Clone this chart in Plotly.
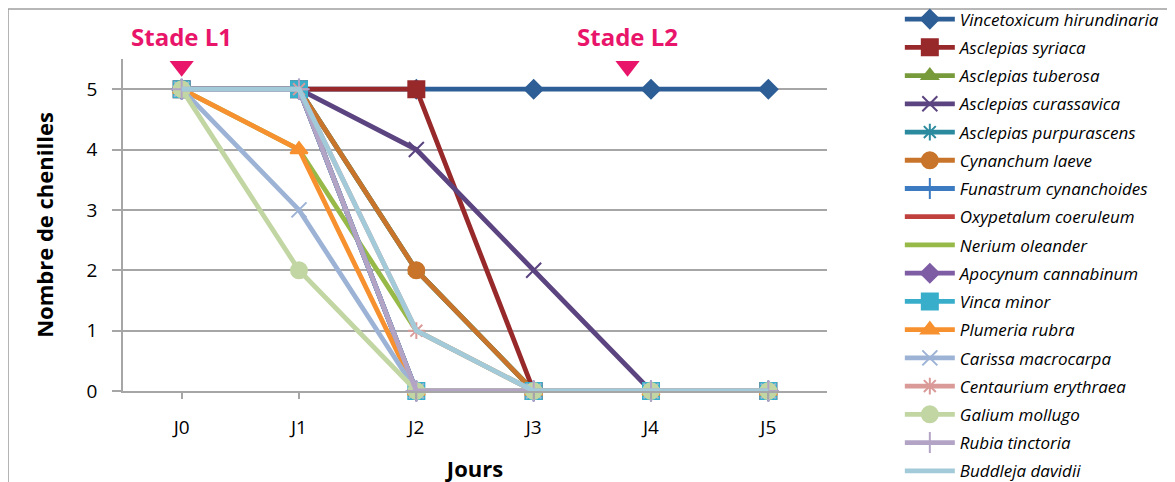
import plotly.graph_objects as go

days = ["J0", "J1", "J2", "J3", "J4", "J5"]

species = [
    "Vincetoxicum hirundinaria", "Asclepias syriaca", "Asclepias tuberosa",
    "Asclepias curassavica", "Asclepias purpurascens", "Cynanchum laeve",
    "Funastrum cynanchoides", "Oxypetalum coeruleum", "Nerium oleander",
    "Apocynum cannabinum", "Vinca minor", "Plumeria rubra",
    "Carissa macrocarpa", "Centaurium erythraea", "Galium mollugo",
    "Rubia tinctoria", "Buddleja davidii",
]

vincetoxicum = [5, 5, 5, 5, 5, 5]
syriaca = [5, 5, 5, 0, 0, 0]
tuberosa = [5, 5, 2, 0, 0, 0]
curassavica = [5, 5, 4, 2, 0, 0]
purpurascens = [5, 5, 2, 0, 0, 0]
cynanchum = [5, 5, 2, 0, 0, 0]
funastrum = [5, 5, 0, 0, 0, 0]
oxypetalum = [5, 5, 0, 0, 0, 0]
nerium = [5, 4, 1, 0, 0, 0]
apocynum = [5, 5, 0, 0, 0, 0]
vinca = [5, 5, 0, 0, 0, 0]
plumeria = [5, 4, 0, 0, 0, 0]
carissa = [5, 3, 0, 0, 0, 0]
centaurium = [5, 5, 1, 0, 0, 0]
galium = [5, 2, 0, 0, 0, 0]
rubia = [5, 5, 0, 0, 0, 0]
buddleja = [5, 5, 1, 0, 0, 0]

values = [vincetoxicum, syriaca, tuberosa, curassavica, purpurascens, cynanchum,
          funastrum, oxypetalum, nerium, apocynum, vinca, plumeria, carissa,
          centaurium, galium, rubia, buddleja]

colors = ["#2E5E96", "#98292B", "#779A3A", "#5B4480", "#2B8A9E", "#C8742B",
          "#3C7BC2", "#C0403E", "#97B948", "#7E5DA4", "#38AECB", "#F7902E",
          "#9DB3D6", "#D99A98", "#C2D6A3", "#B3A4C6", "#A3CAD9"]
symbols = ["diamond", "square", "triangle-up", "x-thin-open", "asterisk-open",
           "circle", "cross-thin-open", None, None, "diamond", "square",
           "triangle-up", "x-thin-open", "asterisk-open", "circle",
           "cross-thin-open", None]
sizes = [14, 16, 14, 15, 14, 16, 15, 0, 0, 14, 16, 15, 15, 14, 16, 15, 0]

stage_labels = ["Stade L1", "Stade L2"]
stage_x = [0, 3.8]

x_idx = list(range(len(days)))
FONT = "Open Sans"

fig = go.Figure()
for name, vals, col, sym, sz in zip(species, values, colors, symbols, sizes):
    if sym is None:
        mode = "lines"
        marker = dict()
    else:
        mode = "lines+markers"
        marker = dict(symbol=sym, size=sz, color=col,
                      line=dict(color=col, width=2))
    fig.add_trace(go.Scatter(
        x=x_idx, y=vals, name=name, mode=mode,
        line=dict(color=col, width=4.8), marker=marker,
        legendgroup=name, cliponaxis=False,
    ))

pink = "#E8156A"
fig.add_trace(go.Scatter(
    x=stage_x, y=[5.38] * len(stage_x), mode="markers",
    marker=dict(symbol="triangle-down", size=21, color=pink),
    showlegend=False, cliponaxis=False, hoverinfo="skip",
))
for lab, sx in zip(stage_labels, stage_x):
    fig.add_annotation(x=sx, xref="x", y=1.068, yref="paper", text="<b>" + lab + "</b>",
                       showarrow=False,
                       font=dict(size=24, color=pink, family=FONT),
                       xanchor="center", yanchor="middle")

fig.update_layout(
    width=1175, height=482,
    margin=dict(l=115, r=356, t=51, b=99, autoexpand=False),
    paper_bgcolor="white", plot_bgcolor="white",
    font=dict(family=FONT, color="#000000"),
    legend=dict(xref="container", yref="paper", x=0.759, y=1.173,
                xanchor="left", yanchor="top", maxheight=600,
                font=dict(size=17, family=FONT, style="italic"),
                tracegroupgap=3.13, itemwidth=50, bgcolor="rgba(0,0,0,0)"),
    shapes=[dict(type="rect", xref="paper", yref="paper",
                 x0=-0.1633, x1=1.6, y0=-0.4, y1=1.1506,
                 line=dict(color="#A0A0A0", width=1.5), layer="below")],
)
fig.update_xaxes(
    range=[-0.5, 5.5], tickmode="array", tickvals=x_idx, ticktext=days,
    showgrid=False, showline=True, linecolor="#A6A6A6", linewidth=1.5,
    ticks="outside", ticklen=6, tickcolor="#A6A6A6", tickwidth=1.5,
    tickfont=dict(size=19), ticklabelstandoff=12,
    title=dict(text="<b>Jours</b>", font=dict(size=22), standoff=23),
    zeroline=False,
)
fig.update_yaxes(
    range=[0, 5.5], tickvals=[0, 1, 2, 3, 4, 5],
    showgrid=True, gridcolor="#A6A6A6", gridwidth=1.5,
    showline=True, linecolor="#A6A6A6", linewidth=1.5,
    ticks="outside", ticklen=9, tickcolor="#A6A6A6", tickwidth=1.5,
    tickfont=dict(size=19), ticklabelstandoff=11,
    title=dict(text="<b>Nombre de chenilles</b>", font=dict(size=22), standoff=27),
    zeroline=False,
)

fig.write_html("out.html")
